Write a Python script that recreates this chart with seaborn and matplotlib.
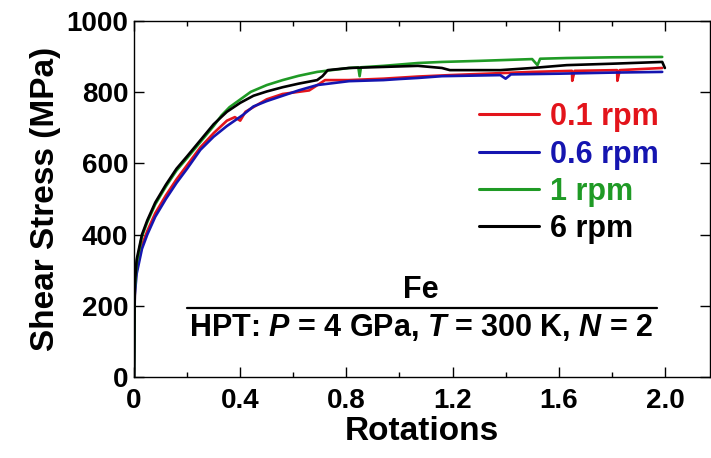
import matplotlib
matplotlib.use("Agg")
import matplotlib.pyplot as plt
import pandas as pd
import seaborn as sns

# values
rot_01 = [0, 0.002, 0.004, 0.01, 0.03, 0.05, 0.08, 0.12, 0.16, 0.2, 0.25, 0.3, 0.35, 0.38, 0.4,
          0.42, 0.5, 0.56, 0.66, 0.72, 0.81, 0.94, 1.07, 1.19, 1.5, 1.65, 1.651, 1.66, 1.82, 1.821,
          1.83, 1.99]
stress_01 = [0, 190, 270, 300, 370, 410, 460, 510, 555, 595, 645, 685, 720, 730, 720,
             745, 780, 795, 805, 834, 834, 838, 844, 848, 857, 860, 832, 860, 862, 832,
             862, 868]

rot_06 = [0, 0.003, 0.01, 0.03, 0.05, 0.08, 0.12, 0.16, 0.2, 0.25, 0.3, 0.35, 0.41, 0.45, 0.5,
          0.56, 0.62, 0.69, 0.81, 0.94, 1.0, 1.07, 1.16, 1.38, 1.4, 1.42, 1.6, 1.8, 1.99]
stress_06 = [0, 230, 290, 360, 400, 450, 500, 545, 585, 638, 675, 705, 736, 760, 775,
             790, 805, 820, 831, 834, 837, 840, 845, 848, 838, 850, 852, 855, 857]

rot_1 = [0, 0.003, 0.01, 0.03, 0.05, 0.08, 0.12, 0.16, 0.2, 0.25, 0.3, 0.33, 0.36, 0.44, 0.5,
         0.56, 0.62, 0.69, 0.81, 0.845, 0.85, 0.855, 0.94, 1.07, 1.16, 1.3, 1.38, 1.5, 1.52,
         1.53, 1.63, 1.8, 1.99]
stress_1 = [0, 250, 320, 395, 435, 485, 535, 580, 615, 660, 705, 735, 758, 801, 820,
            834, 846, 857, 868, 870, 845, 870, 874, 882, 885, 888, 890, 893, 876,
            894, 896, 898, 899]

rot_6 = [0, 0.003, 0.01, 0.03, 0.05, 0.08, 0.12, 0.16, 0.2, 0.25, 0.3, 0.35, 0.4, 0.45, 0.5,
         0.56, 0.62, 0.69, 0.71, 0.73, 0.81, 0.94, 1.07, 1.16, 1.19, 1.38, 1.5, 1.63, 1.8,
         1.99, 2.0]
stress_6 = [0, 260, 330, 400, 440, 490, 540, 585, 620, 665, 710, 745, 770, 790, 802,
            814, 824, 834, 845, 862, 868, 871, 874, 868, 862, 862, 868, 876, 880,
            885, 868]

labels = ['0.1 rpm', '0.6 rpm', '1 rpm', '6 rpm']
colors = ['#e3141b', '#1515b0', '#1f9a25', '#000000']

frames = []
for lab, xs, ys in zip(labels, [rot_01, rot_06, rot_1, rot_6],
                       [stress_01, stress_06, stress_1, stress_6]):
    frames.append(pd.DataFrame({'Rotations': xs, 'Stress': ys, 'Speed': lab}))
df = pd.concat(frames, ignore_index=True)

sns.set_style('ticks')
plt.rcParams['font.family'] = ['Liberation Sans', 'DejaVu Sans']
plt.rcParams['font.weight'] = 'bold'
plt.rcParams['text.color'] = 'black'
plt.rcParams['axes.labelcolor'] = 'black'
plt.rcParams['axes.edgecolor'] = 'black'
plt.rcParams['xtick.color'] = 'black'
plt.rcParams['ytick.color'] = 'black'
plt.rcParams['mathtext.fontset'] = 'custom'
plt.rcParams['mathtext.rm'] = 'Liberation Sans:bold'
plt.rcParams['mathtext.it'] = 'Liberation Sans:italic:bold'

fig = plt.figure(figsize=(7.11, 4.58), dpi=100)
ax = fig.add_axes([134 / 711, 81 / 458, 576 / 711, 356 / 458])

sns.lineplot(data=df, x='Rotations', y='Stress', hue='Speed', palette=colors,
             sort=False, estimator=None, linewidth=1.9, ax=ax, legend=False)

ax.set_xlim(0, 2.17)
ax.set_ylim(0, 1000)
ax.set_xticks([0, 0.4, 0.8, 1.2, 1.6, 2.0])
ax.set_xticklabels(['0', '0.4', '0.8', '1.2', '1.6', '2.0'])
ax.set_xticks([0.2, 0.6, 1.0, 1.4, 1.8], minor=True)
ax.set_yticks([0, 200, 400, 600, 800, 1000])
ax.tick_params(which='major', direction='in', length=7, width=1, top=True, right=True,
               labelsize=20)
ax.tick_params(which='minor', direction='in', length=3.5, width=1, top=True)
ax.tick_params(axis='x', pad=8)
ax.tick_params(axis='y', pad=4)
for s in ax.spines.values():
    s.set_linewidth(1)

ax.set_xlabel('Rotations', fontsize=24, fontweight='bold', labelpad=1)
ax.set_ylabel('Shear Stress (MPa)', fontsize=24, fontweight='bold', labelpad=4)

handles = ax.get_lines()[:4]
leg = ax.legend(handles, labels, loc='upper left', bbox_to_anchor=(0.599, 0.772),
                frameon=False, borderpad=0, borderaxespad=0, handlelength=1.95,
                handletextpad=0.36, labelspacing=0.24,
                prop={'weight': 'bold', 'size': 22}, labelcolor=colors)
for h in leg.legend_handles:
    h.set_linewidth(2.2)

ax.text(1.08, 203, 'Fe', ha='center', va='bottom', fontsize=22, fontweight='bold')
ax.axhline(194, xmin=0.2 / 2.17, xmax=1.97 / 2.17, color='black', linewidth=1.6)
ax.text(1.08, 138, r'HPT: $P$ = 4 GPa, $T$ = 300 K, $N$ = 2', ha='center', va='center',
        fontsize=22)

fig.savefig('out.png', dpi=100)
